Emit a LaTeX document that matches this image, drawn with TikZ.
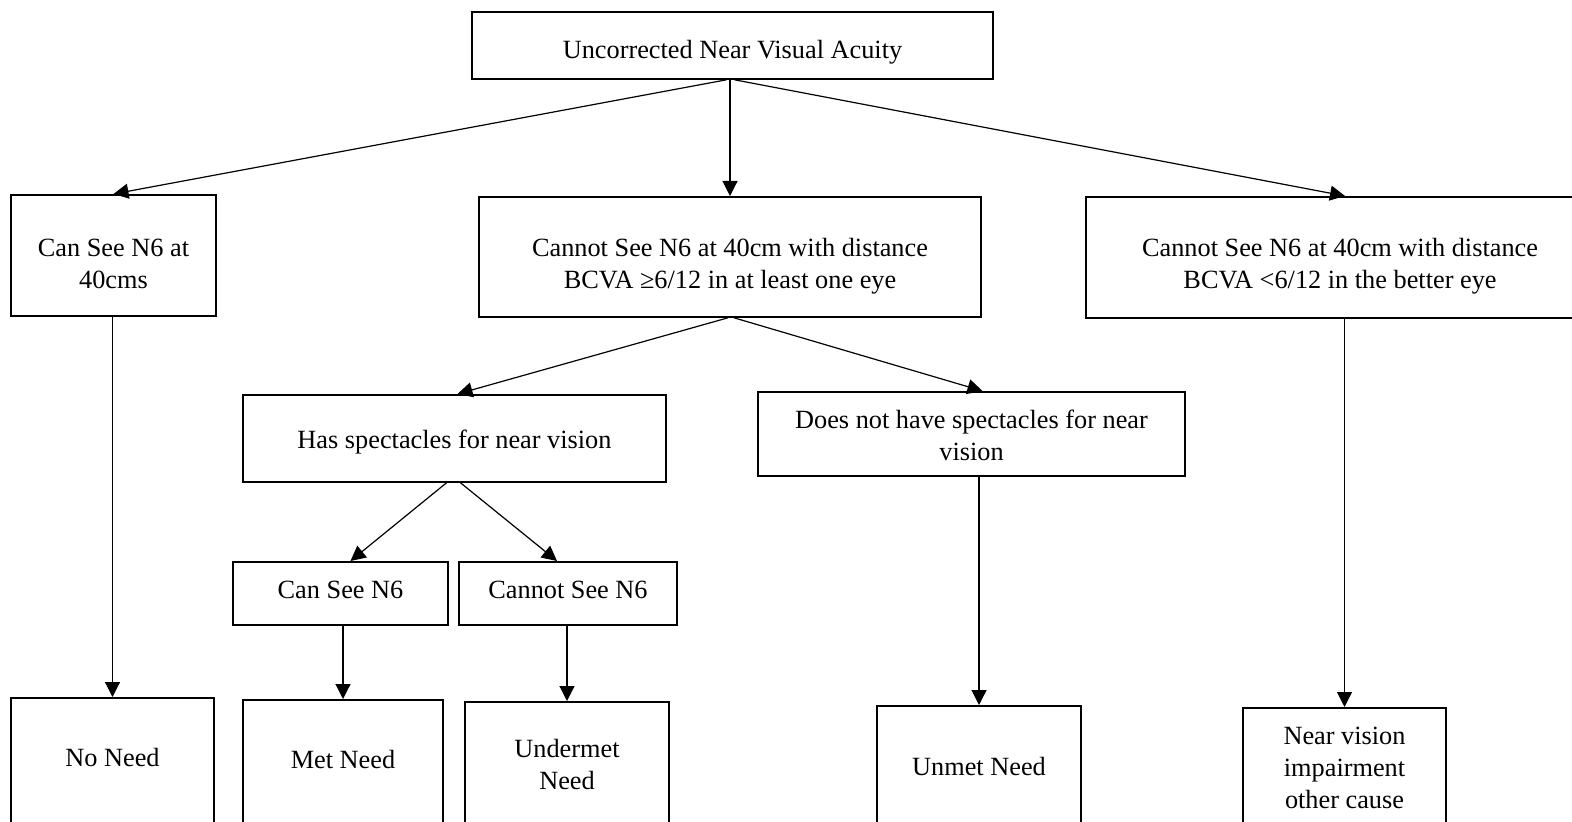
\documentclass[tikz,border=0pt]{standalone}
\usepackage{fontspec}
\setmainfont{Liberation Serif}
\usetikzlibrary{arrows.meta,calc}
\begin{document}
\begin{tikzpicture}[x=0.5pt,y=-0.5pt,
  box/.style={draw=black,line width=0.9pt,rectangle,anchor=north,inner xsep=0pt,inner ysep=0pt,align=center,
    font=\fontsize{13.15pt}{16pt}\selectfont},
  arr/.style={draw=black,line width=0.6pt,-{Triangle[length=7.5pt,width=7.5pt]}}]
\useasboundingbox (0,0) rectangle (1572,822);
\clip (0,0) rectangle (1572,822);
\node[box,minimum width=260.5pt,text height=23.5pt,text depth=10pt] (top) at (732.5,11) {Uncorrected Near Visual Acuity};
\node[box,minimum width=102.5pt,text height=47pt,text depth=13.5pt] (left1) at (113.5,194) {Can See N6 at\\40cms};
\node[box,minimum width=251pt,text height=46pt,text depth=14pt] (mid1) at (730,196) {Cannot See N6 at 40cm with distance\\BCVA ≥6/12 in at least one eye};
\node[box,minimum width=254pt,text height=46pt,text depth=14.5pt] (right1) at (1340,196) {Cannot See N6 at 40cm with distance\\BCVA <6/12 in the better eye};
\node[box,minimum width=211.5pt,text height=27pt,text depth=16.5pt] (has) at (454.5,394) {Has spectacles for near vision};
\node[box,minimum width=213.5pt,text height=34.5pt,text depth=7.5pt] (doesnot) at (971.5,391) {Does not have spectacles for near\\vision};
\node[box,minimum width=107.5pt,text height=18.5pt,text depth=13pt] (cansee) at (340.5,561) {Can See N6};
\node[box,minimum width=109pt,text height=18.5pt,text depth=13pt] (cannotsee) at (568,561) {Cannot See N6};
\node[box,minimum width=101.5pt,text height=34.5pt,text depth=60pt] (noneed) at (112.5,697) {No Need};
\node[box,minimum width=100pt,text height=34.5pt,text depth=60pt] (metneed) at (343,699) {Met Need};
\node[box,minimum width=102pt,text height=44pt,text depth=44pt] (undermet) at (567,701) {Undermet\\Need};
\node[box,minimum width=102pt,text height=35pt,text depth=60pt] (unmet) at (979,705) {Unmet Need};
\node[box,minimum width=101.5pt,text height=50.5pt,text depth=38pt] (nearvis) at (1344.5,707) {Near vision\\impairment\\other cause};
\draw[arr] ($(top.south)+(-6,0)$) -- (left1.north);
\draw[arr] (top.south -| mid1.north) -- (mid1.north);
\draw[arr] ($(top.south)+(2,0)$) -- ($(right1.north)+(5,0)$);
\draw[arr] (left1.south -| noneed.north) -- (noneed.north);
\draw[arr] ($(mid1.south)+(-2,0)$) -- ($(has.north)+(3,0)$);
\draw[arr] ($(mid1.south)+(4,0)$) -- ($(doesnot.north)+(11,0)$);
\draw[arr] ($(has.south)+(-8,0)$) -- ($(cansee.north)+(10,0)$);
\draw[arr] ($(has.south)+(6,0)$) -- ($(cannotsee.north)+(-11,0)$);
\draw[arr] (cansee.south -| metneed.north) -- (metneed.north);
\draw[arr] (cannotsee.south -| undermet.north) -- (undermet.north);
\draw[arr] (doesnot.south -| unmet.north) -- (unmet.north);
\draw[arr] (right1.south -| nearvis.north) -- (nearvis.north);
\end{tikzpicture}
\end{document}
